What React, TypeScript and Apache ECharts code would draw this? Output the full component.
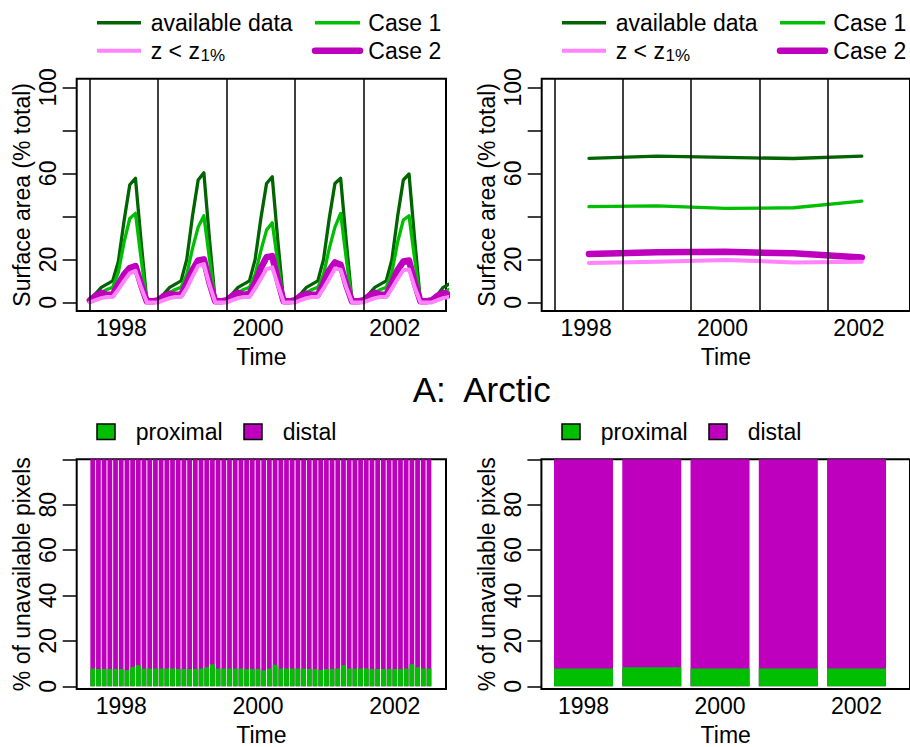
import React, { useEffect, useRef } from "react";
import * as echarts from "echarts";

// ---------- data ----------
const monthStart = 1997.5417; // first monthly sample (year fraction)
const seasonStarts = [1997.5417, 1998.5417, 1999.5417, 2000.5417, 2001.5417];
const yearTicks = [1998, 2000, 2002];

const availMonthly = [
  1, 4, 7, 8.5, 10, 19, 38, 54.7, 57.7, 28, 0.5, 0.5,
  1, 4, 7, 8.5, 10, 20, 40, 56.9, 60.3, 29, 0.5, 0.5,
  1, 4, 7, 8.5, 10, 20, 39, 55.3, 58.4, 28, 0.5, 0.5,
  1, 4, 7, 8.5, 10, 20, 39, 55.3, 57.7, 28, 0.5, 0.5,
  1, 4, 7, 8.5, 10, 20, 40, 56.9, 59.7, 29, 0.5, 0.5,
  1, 3.5, 7, 8.5,
];
const case1Monthly = [
  0.5, 2, 4.5, 6, 7, 14, 28, 39, 41.4, 20, 0.5, 0.5,
  0.5, 2, 4.5, 6, 7, 13, 25, 35, 40.3, 20, 0.5, 0.5,
  0.5, 2, 4.5, 6, 7, 13, 24, 33.6, 37, 18, 0.5, 0.5,
  0.5, 2, 4.5, 6, 7, 13, 25, 35, 41.4, 20, 0.5, 0.5,
  0.5, 2, 4.5, 6, 7, 14, 28, 38.3, 40.3, 20, 0.5, 0.5,
  0.5, 2, 4.5, 6,
];
const case2Monthly = [
  1, 3, 4.5, 3.5, 3.5, 8.5, 13, 16, 16.9, 8, 0.5, 0.5,
  1, 3, 4, 3.5, 3.5, 9, 15, 19.5, 20, 9, 0.5, 0.5,
  1, 3, 4.5, 3.5, 4, 9, 16, 21, 21.5, 10, 0.5, 0.5,
  1, 3, 4, 3.5, 3.5, 9, 15, 18.6, 17.5, 8, 0.5, 0.5,
  1, 3, 4.5, 3.5, 3.5, 9, 15, 19, 19.5, 9, 0.5, 0.5,
  1, 3, 4.5, 3.5,
];
const lowZMonthly = [
  0, 1, 2, 2.5, 2.5, 6, 10, 13.5, 14.7, 7, 0, 0,
  0, 1, 2, 2.5, 2.5, 6.5, 12, 17, 17.8, 8, 0, 0,
  0, 1, 2, 2.5, 2.5, 6.5, 11, 15.5, 16.3, 8, 0, 0,
  0, 1, 2, 2.5, 2.5, 6.5, 11, 15.8, 15.2, 7, 0, 0,
  0, 1, 2, 2.5, 2.5, 6.5, 11, 15, 15.3, 7, 0, 0,
  0, 1, 2, 2.5,
];

const annualYears = [1998.042, 1999.042, 2000.042, 2001.042, 2002.042];
const availAnnual = [67.0, 68.0, 67.4, 66.9, 68.0];
const case1Annual = [44.5, 44.9, 43.7, 44.0, 47.1];
const case2Annual = [22.5, 23.3, 23.5, 22.8, 20.9];
const lowZAnnual = [18.3, 18.9, 19.7, 18.6, 18.9];

const proximalMonthly = [
  7.8, 7.6, 7.6, 7.6, 7.6, 7.6, 7.1, 8.5, 9.3, 7.8, 7.8, 7.8,
  7.8, 7.8, 7.8, 7.6, 7.6, 7.6, 7.6, 7.8, 8.4, 9.7, 7.8, 7.8,
  7.8, 7.8, 7.8, 7.6, 7.6, 7.6, 7.0, 7.8, 9.5, 7.8, 7.8, 7.8,
  7.8, 7.8, 7.6, 7.6, 7.2, 7.6, 7.6, 7.8, 9.3, 7.8, 7.8, 7.8,
  7.8, 7.6, 7.6, 7.6, 7.6, 7.6, 7.6, 7.8, 9.7, 8.4, 7.8, 7.8,
];
const distalMonthly = proximalMonthly.map((p) => 100 - p); // shares sum to 100 %
const barYears = [1998, 1999, 2000, 2001, 2002];
const proximalAnnual = [7.8, 8.4, 7.8, 7.8, 7.8];
const distalAnnual = proximalAnnual.map((p) => 100 - p);

// ---------- styles ----------
const FONT = '"Liberation Sans", Arial, Helvetica, sans-serif';
const C_AVAIL = "#006400";
const C_CASE1 = "#00BE00";
const C_CASE2 = "#BE00BE";
const C_LOWZ = "#FF83FA";
const C_PROX = "#00BE00";
const C_DIST = "#BE00BE";
const FS = 23;

const monthTime = (i: number) => monthStart + i / 12;
const barTime = (i: number) => 1998 + (i - 5) / 12;

function App() {
  const ref = useRef<HTMLDivElement>(null);
  useEffect(() => {
    if (!ref.current) return;
    const chart = echarts.init(ref.current, null, { renderer: "svg" });

    const grids = [
      { left: 76.7, top: 78.7, width: 369.3, height: 232.3 },
      { left: 541.7, top: 78.7, width: 369.3, height: 232.3 },
      { left: 76.7, top: 459.3, width: 369.3, height: 232.4 },
      { left: 541.4, top: 459.3, width: 381.3, height: 232.4 },
    ].map((g) => ({ ...g, show: true, borderColor: "#000", borderWidth: 2, backgroundColor: "transparent" }));

    const xAxis = (gridIndex: number, min: number, max: number) => ({
      gridIndex,
      type: "value",
      min,
      max,
      axisLine: { show: false },
      axisTick: { show: false },
      splitLine: { show: false },
      axisLabel: {
        customValues: yearTicks,
        formatter: (v: number) => String(Math.round(v)),
        fontSize: FS,
        fontFamily: FONT,
        color: "#000",
        margin: 5,
      },
      name: "Time",
      nameLocation: "middle",
      nameGap: 34,
      nameTextStyle: { fontSize: FS, fontFamily: FONT, color: "#000" },
    });

    const yAxis = (gridIndex: number, min: number, max: number, labels: number[], name: string) => ({
      gridIndex,
      type: "value",
      min,
      max,
      axisLine: { show: false },
      axisTick: {
        show: true,
        length: 14,
        customValues: [0, 20, 40, 60, 80, 100],
        lineStyle: { color: "#000", width: 1.5 },
      },
      splitLine: { show: false },
      axisLabel: {
        customValues: labels,
        rotate: 90,
        fontSize: FS,
        fontFamily: FONT,
        color: "#000",
        margin: 17,
      },
      name,
      nameLocation: "middle",
      nameRotate: 90,
      nameGap: 43,
      nameTextStyle: { fontSize: FS, fontFamily: FONT, color: "#000" },
    });

    const vlines = (idx: number) => ({
      type: "line",
      xAxisIndex: idx,
      yAxisIndex: idx,
      data: [],
      silent: true,
      markLine: {
        silent: true,
        symbol: ["none", "none"],
        label: { show: false },
        lineStyle: { color: "#000", width: 1.5, type: "solid" },
        data: seasonStarts.map((x) => ({ xAxis: x })),
      },
    });

    const lineSeries = (idx: number, xs: number[], ys: number[], color: string, width: number) => ({
      type: "line",
      xAxisIndex: idx,
      yAxisIndex: idx,
      data: ys.map((v, i) => [xs[i], v]),
      showSymbol: false,
      symbol: "none",
      silent: true,
      lineStyle: { color, width, cap: "round", join: "round" },
    });

    const mTimes = availMonthly.map((_, i) => monthTime(i));
    const bTimes = proximalMonthly.map((_, i) => barTime(i));

    // stacked look: full column (proximal + distal) drawn first, proximal part overlaid
    const barSeries = (idx: number, xs: number[], ys: number[], color: string, bw: number) => ({
      type: "bar",
      xAxisIndex: idx,
      yAxisIndex: idx,
      barWidth: bw,
      barGap: "-100%",
      silent: true,
      itemStyle: { color },
      data: ys.map((v, i) => [xs[i], v]),
    });

    function txt(x: number, y: number, text: string, size: number, align = "left") {
      return {
        type: "text",
        x,
        y,
        style: {
          text,
          fontSize: size,
          fontFamily: FONT,
          fill: "#000",
          textAlign: align,
          textVerticalAlign: "middle",
          align,
          verticalAlign: "middle",
        },
      };
    }

    const legendTop = (ox: number) => [
      { type: "line", shape: { x1: 97 + ox, y1: 22.7, x2: 141 + ox, y2: 22.7 }, style: { stroke: C_AVAIL, lineWidth: 3.5 } },
      { type: "line", shape: { x1: 315 + ox, y1: 22.7, x2: 360 + ox, y2: 22.7 }, style: { stroke: C_CASE1, lineWidth: 3.5 } },
      { type: "line", shape: { x1: 97 + ox, y1: 50.7, x2: 141 + ox, y2: 50.7 }, style: { stroke: C_LOWZ, lineWidth: 4 } },
      { type: "line", shape: { x1: 315 + ox, y1: 50.7, x2: 360 + ox, y2: 50.7 }, style: { stroke: C_CASE2, lineWidth: 6.5, lineCap: "round" } },
      txt(150.7 + ox, 22.6, "available data", FS),
      txt(368.3 + ox, 22.6, "Case 1", FS),
      txt(150.7 + ox, 51.3, "z < z", FS),
      txt(200.5 + ox, 55.5, "1%", 17),
      txt(368.3 + ox, 51.3, "Case 2", FS),
    ];

    const legendBottom = (ox: number) => [
      { type: "rect", shape: { x: 97 + ox, y: 424, width: 18, height: 15.5 }, style: { fill: C_PROX, stroke: "#000", lineWidth: 1.5 } },
      { type: "rect", shape: { x: 244 + ox, y: 424, width: 18, height: 15.5 }, style: { fill: C_DIST, stroke: "#000", lineWidth: 1.5 } },
      txt(135.7 + ox, 431.8, "proximal", FS),
      txt(282.7 + ox, 431.8, "distal", FS),
    ];

    const option = {
      animation: false,
      grid: grids,
      xAxis: [
        xAxis(0, 1997.349, 2002.749),
        xAxis(1, 1997.349, 2002.749),
        xAxis(2, 1997.349, 2002.749),
        xAxis(3, 1997.383, 2002.783),
      ],
      yAxis: [
        yAxis(0, -4, 104, [0, 20, 60, 100], "Surface area (% total)"),
        yAxis(1, -4, 104, [0, 20, 60, 100], "Surface area (% total)"),
        yAxis(2, -1.2, 100, [0, 20, 40, 60, 80], "% of unavailable pixels"),
        yAxis(3, -1.2, 100, [0, 20, 40, 60, 80], "% of unavailable pixels"),
      ],
      series: [
        vlines(0),
        lineSeries(0, mTimes, availMonthly, C_AVAIL, 3.3),
        lineSeries(0, mTimes, case1Monthly, C_CASE1, 3.3),
        lineSeries(0, mTimes, case2Monthly, C_CASE2, 6.5),
        lineSeries(0, mTimes, lowZMonthly, C_LOWZ, 4),
        vlines(1),
        lineSeries(1, annualYears, availAnnual, C_AVAIL, 3.3),
        lineSeries(1, annualYears, case1Annual, C_CASE1, 3.3),
        lineSeries(1, annualYears, case2Annual, C_CASE2, 6.5),
        lineSeries(1, annualYears, lowZAnnual, C_LOWZ, 4),
        barSeries(2, bTimes, proximalMonthly.map((p, i) => p + distalMonthly[i]), C_DIST, 4.75),
        barSeries(2, bTimes, proximalMonthly, C_PROX, 4.75),
        barSeries(3, barYears, proximalAnnual.map((p, i) => p + distalAnnual[i]), C_DIST, 59),
        barSeries(3, barYears, proximalAnnual, C_PROX, 59),
      ],
      graphic: [
        ...legendTop(0),
        ...legendTop(465),
        txt(481.7, 389.2, "A:  Arctic", 35, "center"),
        ...legendBottom(0),
        ...legendBottom(465),
      ],
    };

    chart.setOption(option as any);
    return () => chart.dispose();
  }, []);

  return (
    <div
      ref={ref}
      style={{ position: "absolute", left: 0, top: 0, width: 910, height: 747, background: "#fff" }}
    />
  );
}

export default App;
